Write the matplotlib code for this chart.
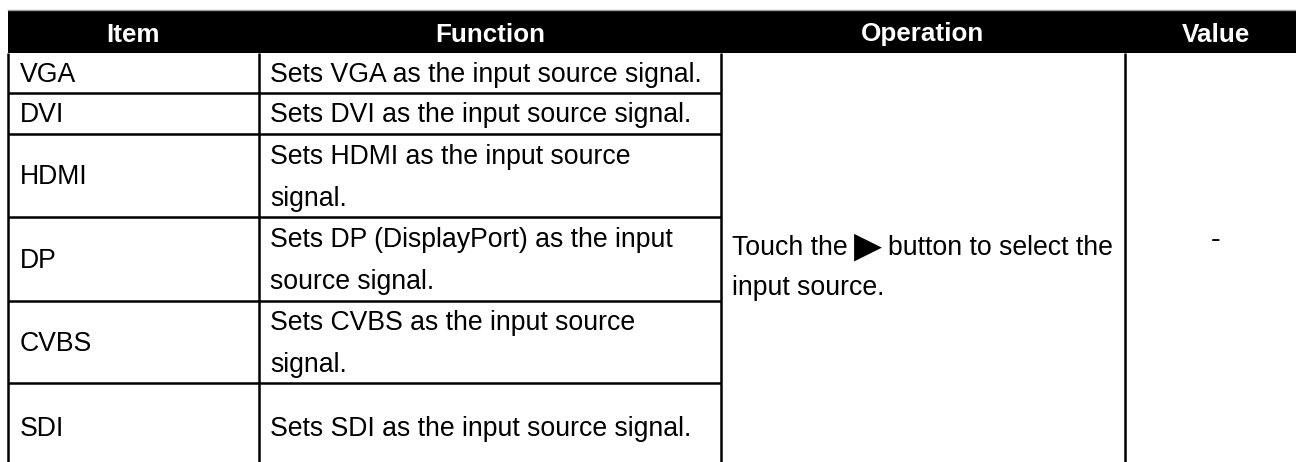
import matplotlib
matplotlib.use('Agg')
import matplotlib.pyplot as plt
from matplotlib.patches import Rectangle

plt.rcParams['font.family'] = ['Liberation Sans', 'DejaVu Sans']

# Table content
headers = ['Item', 'Function', 'Operation', 'Value']
items = ['VGA', 'DVI', 'HDMI', 'DP', 'CVBS', 'SDI']
functions = [
    'Sets VGA as the input source signal.',
    'Sets DVI as the input source signal.',
    'Sets HDMI as the input source\nsignal.',
    'Sets DP (DisplayPort) as the input\nsource signal.',
    'Sets CVBS as the input source\nsignal.',
    'Sets SDI as the input source signal.',
]
op_before = 'Touch the'
op_icon = '\u25B6'
op_after = 'button to select the'
op_line2 = 'input source.'
value = '-'

# Layout in pixels (axes spans the figure, 1 unit = 1 px)
W, H = 1296, 462
col_x = [8, 259, 721, 1125, 1307]
row_y = [53, 93, 134, 217, 301, 383, 471]
head_top = 10
FS = 19.2
LINE = 42
PAD = 11
LW = 1.8

fig = plt.figure(figsize=(W / 100, H / 100), dpi=100)
ax = fig.add_axes([0, 0, 1, 1])
ax.set_xlim(0, W)
ax.set_ylim(H, 0)
ax.axis('off')

# header band
ax.add_patch(Rectangle((col_x[0], head_top), col_x[-1] - col_x[0], row_y[0] - head_top,
                       facecolor='black', edgecolor='none'))
ax.plot([col_x[0], W], [head_top, head_top], color='#9a9a9a', lw=1)
for i, h in enumerate(headers):
    cx = (col_x[i] + col_x[i + 1]) / 2
    ax.text(cx, (head_top + row_y[0]) / 2 + 10, h, color='white', fontsize=FS - 0.5,
            fontweight='bold', ha='center', va='baseline')


def cell_text(x, top, bottom, s, spacing=LINE, shift=9):
    lines = s.split('\n')
    mid = (top + bottom) / 2 + shift
    for k, ln in enumerate(lines):
        y = mid + (k - (len(lines) - 1) / 2) * spacing
        ax.text(x, y, ln, fontsize=FS, ha='left', va='baseline', color='black')


# grid lines
bottom = H + 20
for x in col_x[:4]:
    ax.plot([x, x], [row_y[0], bottom], color='black', lw=LW, solid_capstyle='butt')
for y in row_y[1:-1]:
    ax.plot([col_x[0], col_x[2]], [y, y], color='black', lw=LW, solid_capstyle='butt')

# item and function cells
for i, (it, fn) in enumerate(zip(items, functions)):
    cell_text(col_x[0] + 12, row_y[i], row_y[i + 1], it)
    cell_text(col_x[1] + PAD, row_y[i], row_y[i + 1], fn)

# operation cell (merged over all rows)
y1, y2 = 255, 295
t1 = ax.text(col_x[2] + PAD, y1, op_before, fontsize=FS, ha='left', va='baseline')
fig.canvas.draw()
r = fig.canvas.get_renderer()
bb = t1.get_window_extent(r)
inv = ax.transData.inverted()
x_icon = inv.transform((bb.x1, 0))[0] + 6
t2 = ax.text(x_icon, y1 + 2, op_icon, fontsize=FS + 7, family='DejaVu Sans',
             ha='left', va='baseline')
fig.canvas.draw()
bb2 = t2.get_window_extent(r)
x_after = inv.transform((bb2.x1, 0))[0] + 6
ax.text(x_after, y1, op_after, fontsize=FS, ha='left', va='baseline')
ax.text(col_x[2] + PAD, y2, op_line2, fontsize=FS, ha='left', va='baseline')

# value cell
ax.text((col_x[3] + col_x[4]) / 2, 248, value, fontsize=FS + 2, ha='center', va='baseline')

fig.savefig('out.png', dpi=100)
